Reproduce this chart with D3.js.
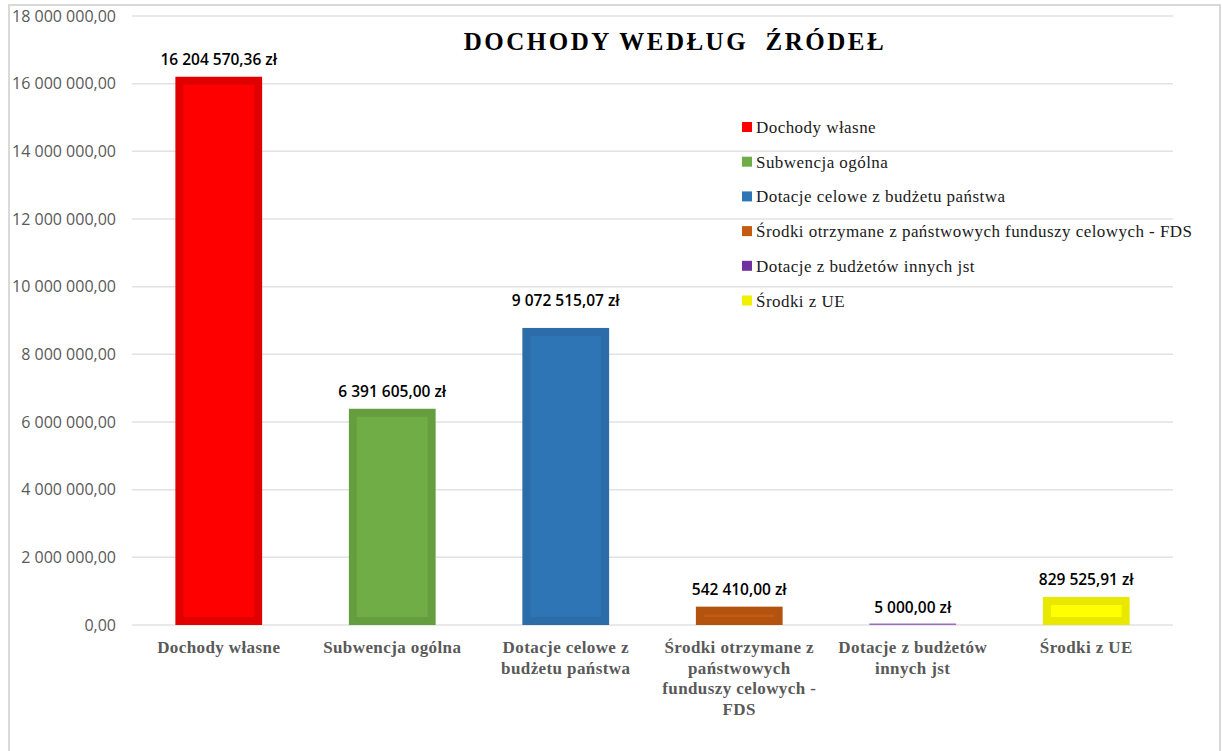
<!DOCTYPE html>
<html>
<head>
<meta charset="utf-8">
<script src="https://cdn.jsdelivr.net/npm/d3@7"></script>
<style>
  body { margin: 0; background: #fff; }
  svg { display: block; }
</style>
</head>
<body>
<div id="chart"></div>
<script>
var categories = ["Dochody własne", "Subwencja ogólna", "Dotacje celowe z budżetu państwa",
  "Środki otrzymane z państwowych funduszy celowych - FDS", "Dotacje z budżetów innych jst", "Środki z UE"];
// wrapped lines of the category labels under the axis
var xLabelLines = [["Dochody własne"], ["Subwencja ogólna"], ["Dotacje celowe z", "budżetu państwa"],
  ["Środki otrzymane z", "państwowych", "funduszy celowych -", "FDS"], ["Dotacje z budżetów", "innych jst"], ["Środki z UE"]];
// amounts printed above the bars
var values = [16204570.36, 6391605.00, 9072515.07, 542410.00, 5000.00, 829525.91];
// heights the bars are actually drawn at (third bar is drawn lower than its label)
var barValues = [16204570.36, 6391605.00, 8780000, 542410.00, 5000.00, 829525.91];
var yTicks = [0, 2e6, 4e6, 6e6, 8e6, 10e6, 12e6, 14e6, 16e6, 18e6];
var fills = ["#FF0000", "#70AD47", "#2E75B6", "#C55A11", "#7030A0", "#FFFF00"];
var borders = ["#E00000", "#659E3E", "#2B6CA9", "#B45210", "#9B6CC0", "#E8E800"];
var title = "DOCHODY WEDŁUG  ŹRÓDEŁ";

var width = 1222;
var height = 751;

var pl = d3.formatLocale({ decimal: ",", thousands: " ", grouping: [3], currency: ["", " zł"] });
var fmt = pl.format(",.2f");

var svg = d3.select("#chart").append("svg")
    .attr("width", width)
    .attr("height", height);

// outer chart frame
svg.append("rect")
    .attr("x", 9).attr("y", 5)
    .attr("width", 1211).attr("height", 780)
    .attr("fill", "#fff")
    .attr("stroke", "#D9D9D9")
    .attr("stroke-width", 2);

var x = d3.scaleBand()
    .domain(categories)
    .range([132, 1173])
    .paddingInner(0.5)
    .paddingOuter(0.25);

var y = d3.scaleLinear()
    .domain([0, 18e6])
    .range([625, 16]);

// gridlines
svg.append("g").selectAll("line")
  .data(yTicks)
  .join("line")
    .attr("x1", 132).attr("x2", 1173)
    .attr("y1", function(d) { return y(d); })
    .attr("y2", function(d) { return y(d); })
    .attr("stroke", "#E2E2E2")
    .attr("stroke-width", 1.5);

// y axis labels
var yAxis = svg.append("g")
    .attr("transform", "translate(116,0)")
    .call(d3.axisLeft(y).tickValues(yTicks).tickSize(0).tickPadding(0).tickFormat(fmt));
yAxis.select(".domain").remove();
yAxis.selectAll("text")
    .attr("fill", "#595959")
    .style("font-family", "'Open Sans', sans-serif")
    .style("font-size", "16px");

// bars: darker outer border, lighter inner fill
var inset = 8;
var bars = svg.append("g").selectAll("g")
  .data(categories)
  .join("g");

bars.append("rect")
    .attr("x", function(d) { return x(d); })
    .attr("y", function(d, i) { return Math.min(y(barValues[i]), y(0) - 1.5); })
    .attr("width", x.bandwidth())
    .attr("height", function(d, i) { return Math.max(y(0) - y(barValues[i]), 1.5); })
    .attr("fill", function(d, i) { return borders[i]; });

bars.each(function(d, i) {
  var h = y(0) - y(barValues[i]);
  if (h <= 2 * inset) return;
  d3.select(this).append("rect")
    .attr("x", x(d) + inset)
    .attr("y", y(barValues[i]) + inset)
    .attr("width", x.bandwidth() - 2 * inset)
    .attr("height", h - 2 * inset)
    .attr("fill", fills[i]);
});

// value labels
svg.append("g").selectAll("text")
  .data(categories)
  .join("text")
    .attr("x", function(d) { return x(d) + x.bandwidth() / 2; })
    .attr("y", function(d, i) { return y(values[i]) - 12; })
    .attr("text-anchor", "middle")
    .attr("fill", "#000")
    .style("font-family", "'Open Sans', sans-serif")
    .style("font-size", "15.5px")
    .style("font-weight", 600)
    .text(function(d, i) { return fmt(values[i]) + " zł"; });

// category labels
var xl = svg.append("g").selectAll("text")
  .data(categories)
  .join("text")
    .attr("x", function(d) { return x(d) + x.bandwidth() / 2; })
    .attr("y", 653)
    .attr("text-anchor", "middle")
    .attr("fill", "#595959")
    .style("font-family", "'Liberation Serif', 'Times New Roman', serif")
    .style("font-size", "17px")
    .style("font-weight", "bold")
    .style("letter-spacing", "0.4px");
xl.selectAll("tspan")
  .data(function(d, i) { return xLabelLines[i]; })
  .join("tspan")
    .attr("x", function() { return this.parentNode.getAttribute("x"); })
    .attr("dy", function(d, j) { return j === 0 ? 0 : 20.5; })
    .text(function(d) { return d; });

// title
svg.append("text")
    .attr("x", 675)
    .attr("y", 50)
    .attr("text-anchor", "middle")
    .attr("fill", "#000")
    .style("font-family", "'Liberation Serif', 'Times New Roman', serif")
    .style("font-size", "25px")
    .style("font-weight", "bold")
    .style("letter-spacing", "2.5px")
    .style("white-space", "pre")
    .text(title);

// legend
var legend = svg.append("g").selectAll("g")
  .data(categories)
  .join("g")
    .attr("transform", function(d, i) { return "translate(742," + (133 + i * 34.7) + ")"; });
legend.append("rect")
    .attr("x", 0).attr("y", -11)
    .attr("width", 10).attr("height", 10)
    .attr("fill", function(d, i) { return fills[i] === "#FFFF00" ? "#F0F000" : fills[i]; });
legend.append("text")
    .attr("x", 14)
    .attr("y", 0)
    .attr("fill", "#1a1a1a")
    .style("font-family", "'Liberation Serif', 'Times New Roman', serif")
    .style("font-size", "17px")
    .style("letter-spacing", "0.45px")
    .text(function(d) { return d; });
</script>
</body>
</html>
